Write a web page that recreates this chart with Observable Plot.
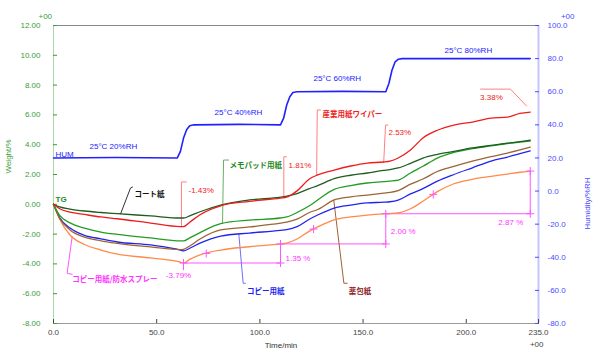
<!DOCTYPE html>
<html>
<head>
<meta charset="utf-8">
<script src="https://cdn.jsdelivr.net/npm/d3@7"></script>
<script src="https://cdn.jsdelivr.net/npm/@observablehq/plot@0.6"></script>
<style>
html,body{margin:0;padding:0;background:#fff;}
</style>
</head>
<body>
<div id="chart"></div>
<script>
// ---------------- data ----------------
const times = [0, 3, 8, 15, 23, 31, 47, 61.5, 63, 66, 71, 81, 95, 110, 113, 118, 124, 128, 136, 144, 152, 160, 163, 167, 173, 179, 186, 194, 203, 212, 220, 226, 231];
const coatPaper      = [0, -0.18, -0.32, -0.45, -0.55, -0.63, -0.78, -0.92, -0.92, -0.78, -0.50, -0.05, 0.29, 0.48, 0.55, 0.72, 1.05, 1.25, 1.72, 1.95, 2.10, 2.28, 2.33, 2.44, 2.75, 3.10, 3.35, 3.55, 3.78, 3.95, 4.10, 4.20, 4.31];
const wiperPaper     = [0, -0.30, -0.52, -0.68, -0.85, -0.97, -1.26, -1.50, -1.50, -1.20, -0.70, -0.10, 0.20, 0.42, 0.48, 0.90, 1.70, 1.97, 2.30, 2.57, 2.77, 2.84, 2.90, 3.11, 3.64, 4.45, 4.97, 5.32, 5.52, 5.79, 5.85, 6.10, 6.19];
const memoPadPaper   = [0, -0.75, -1.25, -1.60, -1.86, -2.02, -2.26, -2.46, -2.46, -2.25, -1.90, -1.30, -1.06, -0.92, -0.85, -0.55, -0.10, 0.29, 1.00, 1.25, 1.43, 1.52, 1.56, 1.62, 2.10, 2.55, 3.10, 3.48, 3.74, 3.92, 4.08, 4.18, 4.25];
const medicinePaper  = [0, -0.95, -1.72, -2.20, -2.45, -2.62, -2.86, -3.04, -3.02, -2.80, -2.33, -1.72, -1.52, -1.27, -1.20, -1.00, -0.55, -0.35, 0.29, 0.50, 0.62, 0.75, 0.80, 0.92, 1.35, 1.70, 2.20, 2.55, 2.90, 3.20, 3.44, 3.65, 3.84];
const copyPaper      = [0, -0.90, -1.59, -2.08, -2.32, -2.53, -2.73, -3.07, -3.13, -2.95, -2.60, -2.13, -1.93, -1.75, -1.70, -1.50, -1.00, -0.72, -0.25, -0.05, 0.09, 0.14, 0.17, 0.28, 0.70, 1.05, 1.55, 2.00, 2.45, 2.90, 3.17, 3.40, 3.58];
const copyPaperSpray = [0, -1.00, -2.06, -2.70, -3.07, -3.35, -3.60, -3.88, -3.94, -3.70, -3.40, -3.07, -2.85, -2.66, -2.60, -2.33, -1.80, -1.52, -1.05, -0.85, -0.72, -0.64, -0.62, -0.58, -0.30, 0.20, 0.85, 1.38, 1.68, 1.87, 2.03, 2.15, 2.23];

const humTimes  = [0, 30, 60, 61.5, 63, 64.5, 66, 68, 90, 110, 111.5, 113, 114.5, 116, 118, 140, 161, 162.5, 164, 165.5, 167, 169, 200, 231];
const humValues = [20, 20.3, 20, 24, 32, 37, 39.5, 40, 40.3, 40, 44, 52, 57, 59.5, 60, 60.2, 60, 65, 73, 78, 79.6, 80, 80, 80];

const seriesNames = ["コート紙", "メモパッド用紙", "産業用紙ワイパー", "コピー用紙", "薬包紙", "コピー用紙/防水スプレー"];
const humLabels = ["25°C 20%RH", "25°C 40%RH", "25°C 60%RH", "25°C 80%RH"];
const humLabelLevels = [20, 40, 60, 80];
const redNotes = ["-1.43%", "1.81%", "2.53%", "3.38%"];
const orangeNotes = ["-3.79%", "1.35 %", "2.00 %", "2.87 %"];
const weightTicks = [12, 10, 8, 6, 4, 2, 0, -2, -4, -6, -8];
const humTicks = [100, 80, 60, 40, 20, 0, -20, -40, -60, -80];
const timeTicks = [0, 50, 100, 150, 200, 235];

// ---------------- layout / style ----------------
const LATIN = "'Liberation Sans', Arial, sans-serif";
const CJK = "'Noto Sans CJK JP', 'Noto Sans CJK SC', sans-serif";
const toW = h => -8 + (h + 80) / 9;           // humidity -> weight-axis units
const fromW = w => Math.round(((w + 8) * 9 - 80) * 10) / 10;
const at = (vals, t) => d3.scaleLinear().domain(times).range(vals)(t);

const C = {coat: "#1f5c1f", red: "#ee1c1c", green: "#249c24", brown: "#9b6534", blue: "#2323ee",
           orange: "#ff8a4a", pink: "#ff55ff", hum: "#2121ff", axG: "#3a9c3a", axB: "#4a4aff"};

const seriesList = [
  {vals: copyPaperSpray, color: C.orange},
  {vals: copyPaper, color: C.blue},
  {vals: medicinePaper, color: C.brown},
  {vals: memoPadPaper, color: C.green},
  {vals: coatPaper, color: C.coat},
  {vals: wiperPaper, color: C.red}
];

const plus = {draw(ctx) { ctx.moveTo(-4, 0); ctx.lineTo(4, 0); ctx.moveTo(0, -4); ctx.lineTo(0, 4); }};

// orange step annotation (values taken from the orange series)
const stepT = [63, 110, 161, 231];
const ov = stepT.map(t => at(copyPaperSpray, t));
const stairs = [[63, ov[0]], [110, ov[0]], [110, ov[1]], [161, ov[1]], [161, ov[2]], [231, ov[2]], [231, ov[3]]];
const midT = [74, 126, 184];

// leader lines [t, w]
const leaders = [
  {pts: [[32.5, at(coatPaper, 32.5)], [37.3, 1.09], [38.3, 1.16]], color: "#333"},
  {pts: [[62, at(wiperPaper, 62)], [62, 1.5], [64.4, 1.5]], color: "#ff8080"},
  {pts: [[81.9, at(memoPadPaper, 81.9)], [82.4, 2.97], [84.8, 2.97]], color: "#66b066"},
  {pts: [[111.6, at(wiperPaper, 111.6)], [111.6, 3.19], [112.9, 3.19]], color: "#ff8080"},
  {pts: [[127.5, at(wiperPaper, 127.5)], [127.8, 6.33], [129.4, 6.33]], color: "#ff8080"},
  {pts: [[160, at(wiperPaper, 160)], [160.9, 5.32], [162, 5.32]], color: "#ff8080"},
  {pts: [[206.9, 7.73], [221.4, 7.73], [229.2, 6.6]], color: "#ff8080"},
  {pts: [[89.8, at(copyPaper, 89.8)], [91.9, -5.3], [93, -5.3]], color: "#6f6fff"},
  {pts: [[135.8, at(medicinePaper, 135.8)], [140.7, -5.3], [142.3, -5.3]], color: "#a0603a"},
  {pts: [[9.06, at(copyPaperSpray, 9.06)], [6.6, -4.63], [9.06, -4.7]], color: C.pink},
  {pts: [[63, ov[0]], [63, ov[0] - 0.45]], color: C.pink}
];

const cjkNotes = [
  {text: seriesNames[0], t: 39.2, w: 0.62, fill: "#111"},
  {text: seriesNames[1], t: 85.3, w: 2.63, fill: "#1d8a1d"},
  {text: seriesNames[2], t: 130.3, w: 5.99, fill: "#ee1c1c"},
  {text: seriesNames[3], t: 93.8, w: -5.87, fill: "#2323ee"},
  {text: seriesNames[4], t: 143, w: -5.87, fill: "#8b1a1a"},
  {text: seriesNames[5], t: 9.06, w: -5.03, fill: "#ff33ff"}
];
const redTextPos = [{t: 65.4, w: 0.96, a: "start"}, {t: 113.9, w: 2.64, a: "start"}, {t: 162.3, w: 4.79, a: "start"}, {t: 212.2, w: 7.2, a: "middle"}];
const orangeTextPos = [
  {dx: -5, dy: 12, a: "middle"},
  {dx: 5, dy: -5, a: "start"},
  {dx: 5, dy: -12, a: "start"},
  {dx: -7, dy: 9, a: "end"}
];
const orangeTextAnchor = [[stepT[0], ov[0]], [stepT[1], ov[0]], [stepT[2], ov[1]], [stepT[3], ov[2]]];
const humTextPos = [{t: 29, dy: -12}, {t: 89.6, dy: -12}, {t: 137.5, dy: -13}, {t: 201, dy: -8}];

const marks = [
  Plot.ruleY([12], {stroke: "#8a8a8a"}),
  Plot.ruleY([-8], {stroke: "#9a9a9a"}),
  Plot.ruleX([0], {stroke: "#a8d8a8"}),
  Plot.ruleX([235], {stroke: "#c6c6ff", strokeWidth: 2}),
  Plot.axisY({anchor: "left", ticks: weightTicks, tickFormat: d => d.toFixed(2), tickSize: -4, tickPadding: 17, label: null, color: C.axG}),
  Plot.axisY({anchor: "right", ticks: humTicks.map(toW), tickFormat: w => fromW(w).toFixed(1), tickSize: -4, tickPadding: 13, label: null, color: C.axB}),
  Plot.axisX({ticks: timeTicks, tickFormat: d => d.toFixed(1), tickSize: -4, tickPadding: 10, label: null, color: "#444"}),
  Plot.text(["Weight/%"], {frameAnchor: "left", rotate: -90, dx: -45, dy: -1, fill: C.axG, fontSize: 8}),
  Plot.text(["Humidity/%RH"], {frameAnchor: "right", rotate: -90, dx: 49, dy: 3, fill: C.axB, fontSize: 8}),
  Plot.text(["Time/min"], {frameAnchor: "bottom", dx: -15, dy: 24, fill: "#333", fontSize: 8}),
  Plot.text(["+00"], {frameAnchor: "top-left", dx: -15, dy: -12, fill: C.axG, fontSize: 8}),
  Plot.text(["+00"], {frameAnchor: "top-right", dx: 36, dy: -12, fill: C.axB, fontSize: 8}),
  Plot.text(["+00"], {frameAnchor: "bottom-right", dx: 5, dy: 23, fill: "#444", fontSize: 8}),
  // humidity curve and its labels
  Plot.line(humTimes, {x: d => d, y: (d, i) => toW(humValues[i]), stroke: C.hum, strokeWidth: 1.6}),
  Plot.text(["HUM"], {x: () => humTimes[0], y: () => toW(humValues[0]), dx: 2, dy: -4, textAnchor: "start", fill: C.hum, fontSize: 8}),
  ...humLabels.map((lab, i) => Plot.text([lab], {x: () => humTextPos[i].t, y: () => toW(humLabelLevels[i]), dy: humTextPos[i].dy, fill: C.hum, fontSize: 8})),
  // pink step annotation
  Plot.line(stairs, {x: d => d[0], y: d => d[1], stroke: C.pink, strokeWidth: 1}),
  // leader lines
  ...leaders.map(l => Plot.line(l.pts, {x: d => d[0], y: d => d[1], stroke: l.color, strokeWidth: 1})),
  // weight series
  ...seriesList.map(s => Plot.line(times, {x: d => d, y: (d, i) => s.vals[i], stroke: s.color, strokeWidth: 1.3, curve: "monotone-x"})),
  Plot.dot(stairs, {x: d => d[0], y: d => d[1], symbol: plus, stroke: C.pink, strokeWidth: 1, r: 3}),
  Plot.dot(midT, {x: d => d, y: d => at(copyPaperSpray, d), symbol: plus, stroke: C.pink, strokeWidth: 1, r: 3}),
  Plot.text(["TG"], {x: () => 0, y: () => 0, dx: 2, dy: -5, textAnchor: "start", fill: "#1e8a1e", fontWeight: "bold", fontSize: 8}),
  Plot.text(cjkNotes, {x: "t", y: "w", text: "text", fill: d => d.fill, textAnchor: "start", fontFamily: CJK, fontWeight: "bold", fontSize: 7.5}),
  ...redNotes.map((lab, i) => Plot.text([lab], {x: () => redTextPos[i].t, y: () => redTextPos[i].w, textAnchor: redTextPos[i].a, fill: "#f02020", fontSize: 8})),
  ...orangeNotes.map((lab, i) => Plot.text([lab], {x: () => orangeTextAnchor[i][0], y: () => orangeTextAnchor[i][1], dx: orangeTextPos[i].dx, dy: orangeTextPos[i].dy, textAnchor: orangeTextPos[i].a, fill: "#ff33ff", fontSize: 8}))
];

const chart = Plot.plot({
  width: 600,
  height: 356,
  marginLeft: 53,
  marginRight: 62,
  marginTop: 25,
  marginBottom: 33,
  x: {domain: [0, 235]},
  y: {domain: [-8, 12]},
  style: {fontFamily: LATIN, fontSize: "8px", background: "#fff", overflow: "visible"},
  marks
});
document.getElementById("chart").appendChild(chart);
</script>
</body>
</html>
